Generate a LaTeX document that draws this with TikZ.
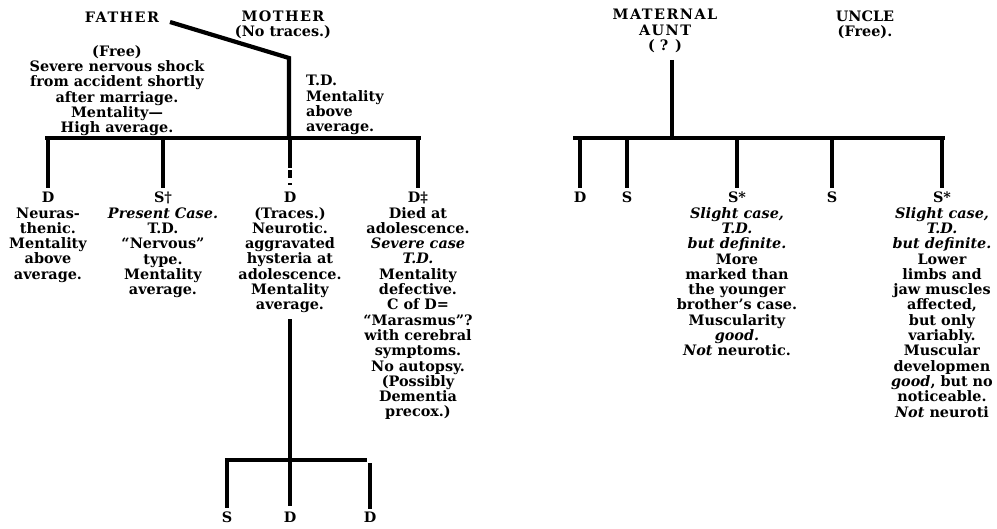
\documentclass[tikz,border=0pt]{standalone}
\usepackage{fontspec}
\setmainfont{DejaVu Serif}
\usepackage{tikz}
\newcommand\spaced[1]{{\addfontfeatures{LetterSpace=10}#1}}

\begin{document}
\begin{tikzpicture}[
    x=1pt, y=-1pt,
    txt/.style={font=\fontsize{14.4}{15.3}\selectfont\bfseries, inner sep=0pt},
    head/.style={txt, align=center},
    kid/.style={txt, align=center, anchor=north},
    note/.style={txt, align=left, anchor=north west},
    bond/.style={line width=4.2pt}
]
\useasboundingbox (0,0) rectangle (997,528);

% parents
\node[head] (father) at (122,17) {\spaced{FATHER}};
\node[head] (mother) at (283,25) {\spaced{MOTHER}\\(No traces.)};
\node[kid] (ftext) at (117,45) {(Free)\\Severe nervous shock\\from accident shortly\\after marriage.\\Mentality---\\High average.};
\node[note] (mtext) at (306,75) {T.D.\\Mentality\\above\\average.};

\coordinate (fstart) at (170,22);
\coordinate (marr) at (289,58);
\coordinate (lbar) at (289,138);
\draw[bond] (fstart) -- (marr) -- (lbar);

% children
\node[kid] (c1) at (48,192) {D\\Neuras-\\thenic.\\Mentality\\above\\average.};
\node[kid] (c2) at (163,192) {S†\\\textit{Present Case.}\\T.D.\\``Nervous''\\type.\\Mentality\\average.};
\node[kid] (c3) at (290,192) {D\\(Traces.)\\Neurotic.\\aggravated\\hysteria at\\adolescence.\\Mentality\\average.};
\node[kid] (c4) at (418,192) {D‡\\Died at\\adolescence.\\\textit{Severe case}\\\textit{T.D.}\\Mentality\\defective.\\C of D=\\``Marasmus''?\\with cerebral\\symptoms.\\No autopsy.\\(Possibly\\Dementia\\precox.)};

\draw[bond] ([xshift=-3pt]c1.north |- lbar) -- ([xshift=3pt]c4.north |- lbar);
\draw[bond, shorten >=4pt] (c1.north |- lbar) -- (c1.north);
\draw[bond, shorten >=4pt] (c2.north |- lbar) -- (c2.north);
\draw[bond, shorten >=4pt, dash pattern=on 30pt off 2pt on 8pt off 5pt on 2pt] (c3.north |- lbar) -- (c3.north);
\draw[bond, shorten >=4pt] (c4.north |- lbar) -- (c4.north);

% grandchildren
\coordinate (cbar) at (290,460);
\node[kid] (g1) at (227,512) {S};
\node[kid] (g2) at (290,512) {D};
\node[kid] (g3) at (370,512) {D};
\draw[bond, shorten <=6pt] (c3.south) -- (cbar);
\draw[bond] ([xshift=-2.1pt]g1.north |- cbar) -- ([xshift=-3pt]g3.north |- cbar);
\draw[bond, shorten >=4pt] (g1.north |- cbar) -- (g1.north);
\draw[bond, shorten >=6pt] (g2.north |- cbar) -- (g2.north);
\draw[bond, shorten <=3pt, shorten >=3pt] (g3.north |- cbar) -- (g3.north);

% maternal side
\node[head] (aunt) at (665,31) {\spaced{MATERNAL}\\\spaced{AUNT}\\( ? )};
\node[head] (uncle) at (865,25) {UNCLE\\(Free).};
\coordinate (rbar) at (672,138);
\draw[bond] ([yshift=-7pt]aunt.south -| rbar) -- (rbar);

\node[kid] (r1) at (580,192) {D};
\node[kid] (r2) at (627,192) {S};
\node[kid] (r3) at (737,192) {S*\\\textit{Slight case,}\\\textit{T.D.}\\\textit{but definite.}\\More\\marked than\\the younger\\brother's case.\\Muscularity\\\textit{good.}\\\textit{Not} neurotic.};
\node[kid] (r4) at (832,192) {S};
\node[kid] (r5) at (942,192) {S*\\\textit{Slight case,}\\\textit{T.D.}\\\textit{but definite.}\\Lower\\limbs and\\jaw muscles\\affected,\\but only\\variably.\\Muscular\\developmen\\\textit{good}, but no\\noticeable.\\\textit{Not} neuroti};

\draw[bond] ([xshift=-7pt]r1.north |- rbar) -- ([xshift=3pt]r5.north |- rbar);
\draw[bond, shorten >=4pt] (r1.north |- rbar) -- (r1.north);
\draw[bond, shorten >=4pt] (r2.north |- rbar) -- (r2.north);
\draw[bond, shorten >=4pt] (r3.north |- rbar) -- (r3.north);
\draw[bond, shorten >=4pt] (r4.north |- rbar) -- (r4.north);
\draw[bond, shorten >=4pt] (r5.north |- rbar) -- (r5.north);
\end{tikzpicture}
\end{document}
